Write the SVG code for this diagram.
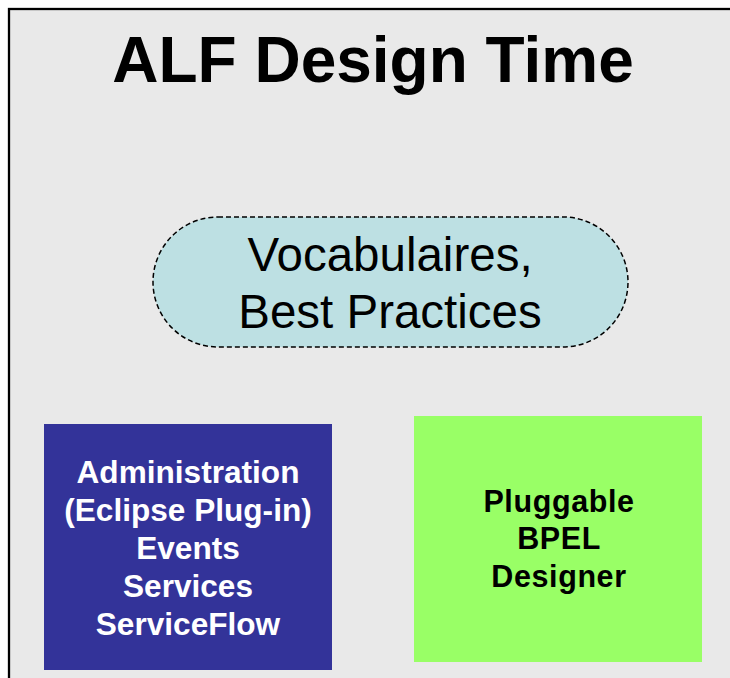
<svg xmlns="http://www.w3.org/2000/svg" width="730" height="678" viewBox="0 0 730 678">
  <style>
    .title { font-family: "Liberation Sans", Arial, sans-serif; font-weight: bold; font-size: 64px; fill: #000; text-anchor: middle; }
    .vocab { font-family: "Liberation Sans", Arial, sans-serif; font-size: 47.5px; fill: #000; text-anchor: middle; }
    .admin { font-family: "Liberation Sans", Arial, sans-serif; font-weight: bold; font-size: 31.6px; fill: #fff; text-anchor: middle; }
    .bpel { font-family: "Liberation Sans", Arial, sans-serif; font-weight: bold; font-size: 30.5px; fill: #000; text-anchor: middle; letter-spacing: 0.6px; }
  </style>
  <rect width="730" height="678" fill="#ffffff"/>
  <g id="frame">
    <rect x="9" y="9" width="740" height="700" fill="#e9e9e9" stroke="#000" stroke-width="2.3"/>
    <text class="title" x="373" y="82.3">ALF Design Time</text>
  </g>
  <g id="vocabulaires">
    <rect x="153" y="217" width="475" height="130" rx="65" ry="65" fill="#bde0e3" stroke="#000" stroke-width="1.5" stroke-dasharray="5,3"/>
    <text class="vocab" x="390" y="270.7">Vocabulaires,</text>
    <text class="vocab" x="390" y="328.3">Best Practices</text>
  </g>
  <g id="administration">
    <rect x="44" y="424" width="288" height="246" fill="#333399"/>
    <text class="admin" x="188" y="482.5">Administration</text>
    <text class="admin" x="188" y="520.7">(Eclipse Plug-in)</text>
    <text class="admin" x="188" y="558.9">Events</text>
    <text class="admin" x="188" y="597.1">Services</text>
    <text class="admin" x="188" y="635.3">ServiceFlow</text>
  </g>
  <g id="bpel-designer">
    <rect x="414" y="416" width="288" height="246" fill="#99ff66"/>
    <text class="bpel" x="559" y="511.5">Pluggable</text>
    <text class="bpel" x="559" y="549.3">BPEL</text>
    <text class="bpel" x="559" y="587">Designer</text>
  </g>
  <g id="connectors"></g>
</svg>
